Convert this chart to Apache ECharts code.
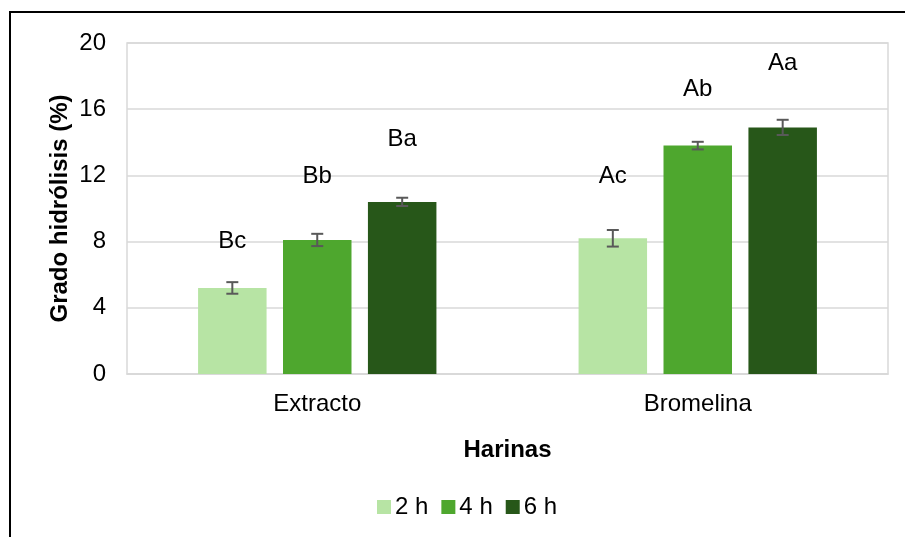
<!DOCTYPE html>
<html>
<head>
<meta charset="utf-8">
<script src="https://cdn.jsdelivr.net/npm/echarts@6/dist/echarts.min.js"></script>
<style>
  html, body { margin: 0; padding: 0; background: #fff; }
  #chart { width: 905px; height: 537px; }
</style>
</head>
<body>
<div id="chart"></div>
<script>
// Degree of hydrolysis by flour type and hydrolysis time
const categories = ['Extracto', 'Bromelina'];
const seriesNames = ['2 h', '4 h', '6 h'];
const values2h = [5.2, 8.2];
const values4h = [8.1, 13.8];
const values6h = [10.4, 14.9];
const errors2h = [0.35, 0.5];
const errors4h = [0.37, 0.23];
const errors6h = [0.25, 0.46];
const letters2h = ['Bc', 'Ac'];
const letters4h = ['Bb', 'Ab'];
const letters6h = ['Ba', 'Aa'];
const yTicks = [0, 4, 8, 12, 16, 20];

const values = [values2h, values4h, values6h];
const errors = [errors2h, errors4h, errors6h];
const letters = [letters2h, letters4h, letters6h];

// styling
const colors = ['#b7e4a4', '#4ea72e', '#275719'];
const FONT = '"Liberation Sans", Arial, sans-serif';
const FS = 24;
const BAR_W = 0.18;      // fraction of the category band
const BAR_GAP = 0.24;    // fraction of bar width
// pixel lift of each letter's centre above its error bar cap
const letterLift = [[41, 54], [57, 52], [58, 56]];

const chart = echarts.init(document.getElementById('chart'), null, { renderer: 'canvas' });

const barSeries = seriesNames.map((name, i) => ({
  name: name,
  type: 'bar',
  data: values[i],
  barWidth: (BAR_W * 100) + '%',
  barGap: (BAR_GAP * 100) + '%',
  itemStyle: { color: colors[i] },
  emphasis: { disabled: true },
  z: 2
}));

// Error bars and significance letters, aligned with the grouped bars
const errorSeries = seriesNames.map((name, i) => ({
  type: 'custom',
  name: name + ' err',
  data: values[i].map((v, j) => [j, v, errors[i][j], letters[i][j], letterLift[i][j]]),
  encode: { x: 0, y: 1 },
  z: 5,
  silent: true,
  renderItem: function (params, api) {
    const cat = api.value(0);
    const v = api.value(1);
    const e = api.value(2);
    const band = api.size([1, 0])[0];
    const bw = band * BAR_W;
    const step = bw * (1 + BAR_GAP);
    const cx = api.coord([cat, v])[0] + (i - 1) * step;
    const yTop = api.coord([cat, v + e])[1];
    const yBot = api.coord([cat, v - e])[1];
    const cap = 6;
    const st = { stroke: '#595959', lineWidth: 2 };
    return {
      type: 'group',
      children: [
        { type: 'line', shape: { x1: cx, y1: yTop, x2: cx, y2: yBot }, style: st },
        { type: 'line', shape: { x1: cx - cap, y1: yTop, x2: cx + cap, y2: yTop }, style: st },
        { type: 'line', shape: { x1: cx - cap, y1: yBot, x2: cx + cap, y2: yBot }, style: st },
        {
          type: 'text',
          style: {
            text: api.value(3),
            x: cx,
            y: yTop - api.value(4),
            align: 'center',
            verticalAlign: 'middle',
            fill: '#000',
            font: FS + 'px ' + FONT
          }
        }
      ]
    };
  }
}));

chart.setOption({
  animation: false,
  backgroundColor: '#fff',
  textStyle: { fontFamily: FONT },
  graphic: [{
    type: 'rect',
    shape: { x: 10, y: 12, width: 1000, height: 700 },
    style: { fill: 'none', stroke: '#000', lineWidth: 2 },
    z: 10
  }],
  grid: {
    left: 127, right: 17, top: 43, bottom: 163,
    show: true, borderColor: '#d9d9d9', borderWidth: 1.5
  },
  legend: {
    data: seriesNames,
    bottom: 13,
    left: 372,
    itemWidth: 14,
    itemHeight: 14,
    itemGap: 13,
    icon: 'rect',
    textStyle: { fontSize: FS, color: '#000', fontFamily: FONT, padding: [0, 0, 0, -1] }
  },
  xAxis: {
    type: 'category',
    data: categories,
    name: 'Harinas',
    nameLocation: 'middle',
    nameGap: 64,
    nameMoveOverlap: false,
    nameTextStyle: { fontSize: FS, fontWeight: 'bold', color: '#000', fontFamily: FONT },
    axisLine: { lineStyle: { color: '#d9d9d9', width: 1.5 } },
    axisTick: { show: false },
    axisLabel: { fontSize: FS, color: '#000', margin: 18, fontFamily: FONT }
  },
  yAxis: {
    type: 'value',
    min: yTicks[0],
    max: yTicks[yTicks.length - 1],
    interval: yTicks[1] - yTicks[0],
    name: 'Grado hidrólisis (%)',
    nameLocation: 'middle',
    nameGap: 55,
    nameMoveOverlap: false,
    nameTextStyle: { fontSize: FS, fontWeight: 'bold', color: '#000', fontFamily: FONT },
    axisLine: { show: false },
    axisTick: { show: false },
    splitLine: { lineStyle: { color: '#d9d9d9', width: 1.5 } },
    axisLabel: { fontSize: FS, color: '#000', margin: 21, fontFamily: FONT }
  },
  series: barSeries.concat(errorSeries)
});
</script>
</body>
</html>
